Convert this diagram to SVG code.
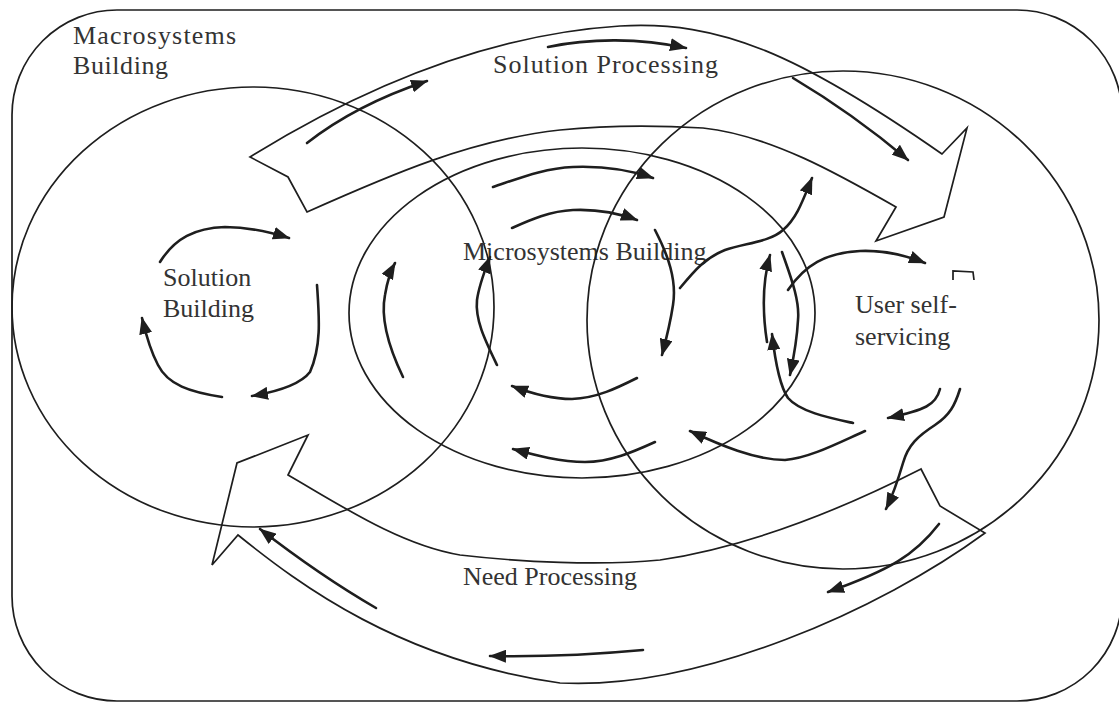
<svg xmlns="http://www.w3.org/2000/svg" width="1119" height="702" viewBox="0 0 1119 702">
<defs>
<style>
.shape{fill:none;stroke:#1e1e1e;stroke-width:1.7;stroke-linejoin:miter}
.arr{fill:none;stroke:#1e1e1e;stroke-width:2.6;stroke-linecap:round;marker-end:url(#ah)}
.lbl{font-family:"Liberation Serif","Times New Roman",serif;font-size:26px;fill:#333}
</style>
<marker id="ah" markerWidth="17" markerHeight="13" refX="16" refY="6.5" orient="auto" markerUnits="userSpaceOnUse">
<path d="M0,0 L17,6.5 L0,13 Z" fill="#1e1e1e"/>
</marker>
</defs>
<rect width="1119" height="702" fill="#fff"/>
<g id="macrosystems-building">
<rect class="shape" x="12" y="10" width="1110" height="691" rx="105" ry="105"/>
<text class="lbl" x="73" y="44" textLength="163">Macrosystems</text>
<text class="lbl" x="73" y="74" textLength="95">Building</text>
</g>
<g id="solution-building">
<ellipse class="shape" cx="253" cy="307" rx="241" ry="220"/>
<text class="lbl" x="163" y="286">Solution</text>
<text class="lbl" x="163" y="317">Building</text>
</g>
<g id="microsystems-building">
<ellipse class="shape" cx="582" cy="313" rx="233" ry="165"/>
<text class="lbl" x="463" y="260">Microsystems Building</text>
</g>
<g id="user-self-servicing">
<ellipse class="shape" cx="843" cy="320" rx="256" ry="249"/>
<text class="lbl" x="855" y="313">User self-</text>
<text class="lbl" x="855" y="345">servicing</text>
<path class="shape" d="M953,280 L953,271 L973,272 L974,280"/>
</g>
<g id="solution-processing">
<path class="shape" d="M250,157 C350,95 480,35 620,26 C720,20 800,55 942,154 L967,128 L944,217 L876,241 L896,207 C840,175 770,135 703,128 C650,125 600,126 560,130 C470,140 390,175 307,212 L288,177 Z"/>
<text class="lbl" x="493" y="73" textLength="225">Solution Processing</text>
</g>
<g id="need-processing">
<path class="shape" d="M921,469 C860,500 760,545 660,560 C600,566 520,562 460,555 C400,545 340,505 288,475 L308,435 L237,463 L212,565 L238,535 C300,585 400,660 560,683 C700,690 880,610 985,533 L940,506 Z"/>
<text class="lbl" x="463" y="585">Need Processing</text>
</g>
<g id="connectors">
<path class="arr" d="M307,143 C330,125 370,100 427,81"/>
<path class="arr" d="M548,47 C590,38 640,38 686,48"/>
<path class="arr" d="M793,78 C830,100 870,128 908,160"/>
<path class="arr" d="M160,262 C175,238 195,228 225,227 C250,227 270,232 289,238"/>
<path class="arr" d="M317,285 C319,315 322,345 310,372 C300,385 275,392 252,396"/>
<path class="arr" d="M222,397 C190,392 168,385 158,365 C150,350 146,335 142,318"/>
<path class="arr" d="M493,187 C520,178 545,168 573,167 C600,166 630,170 653,178"/>
<path class="arr" d="M512,228 C530,220 550,211 573,210 C595,209 618,213 637,220"/>
<path class="arr" d="M403,377 C390,350 380,320 385,295 C387,283 390,272 395,263"/>
<path class="arr" d="M497,365 C485,340 475,320 477,300 C479,285 485,270 490,257"/>
<path class="arr" d="M655,230 C668,255 677,280 673,305 C670,325 666,340 662,355"/>
<path class="arr" d="M637,378 C617,388 597,398 572,399 C550,399 530,393 512,386"/>
<path class="arr" d="M655,442 C633,452 610,462 585,462 C560,462 535,455 513,449"/>
<path class="arr" d="M865,431 C840,442 810,458 785,460 C755,460 720,445 690,431"/>
<path class="arr" d="M680,288 C695,270 705,258 725,250 C745,243 770,242 783,230 C797,218 803,200 812,178"/>
<path class="arr" d="M767,342 C762,310 763,280 770,255"/>
<path class="arr" d="M853,423 C830,418 800,412 788,398 C779,385 775,360 772,334"/>
<path class="arr" d="M782,252 C790,275 800,300 798,320 C797,340 794,356 790,375"/>
<path class="arr" d="M788,290 C805,265 825,253 860,251 C885,250 905,255 925,263"/>
<path class="arr" d="M940,389 C936,405 925,410 888,418"/>
<path class="arr" d="M960,389 C955,405 950,415 935,425 C918,436 908,445 903,463 C898,480 893,495 886,509"/>
<path class="arr" d="M939,524 C915,555 890,570 828,592"/>
<path class="arr" d="M643,650 C600,654 545,657 490,656"/>
<path class="arr" d="M376,608 C345,590 300,560 260,529"/>
</g>
</svg>
